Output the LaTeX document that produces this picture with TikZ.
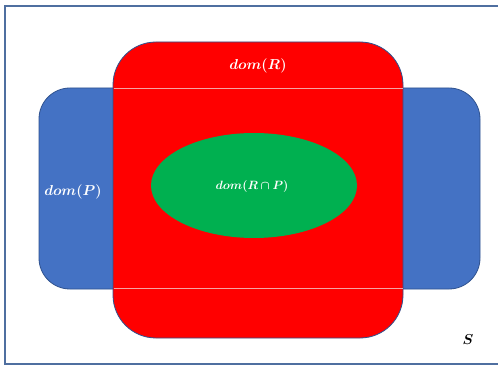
\documentclass[tikz,border=0pt]{standalone}
\usepackage{amsmath,bm}
\usetikzlibrary{shapes.geometric}
\definecolor{pblue}{HTML}{4472C4}
\definecolor{pred}{HTML}{FF0000}
\definecolor{pgreen}{HTML}{00B050}
\definecolor{edge}{HTML}{2F528F}
\definecolor{framec}{HTML}{4F6FA0}
\definecolor{seam}{HTML}{F4A4A4}
\tikzset{
  region/.style={draw=edge, line width=0.8pt},
  lbl/.style={text=white, inner sep=0pt},
}
\begin{document}
\begin{tikzpicture}[x=1pt,y=-1pt]
\useasboundingbox (0,0) rectangle (498,366);
\fill[white] (0,0) rectangle (498,366);
% frame S
\draw[framec, line width=1.5pt] (498,6) -- (5,6) -- (5,364) -- (498,364);
% dom(P)
\path[region, fill=pblue, rounded corners=31pt] (39,88) rectangle (480,289);
% dom(R)
\path[region, fill=pred, rounded corners=43pt] (113,42) rectangle (403,338);
\draw[seam, line width=0.6pt] (113.5,88) -- (402.5,88);
\draw[seam, line width=0.6pt] (113.5,288) -- (402.5,288);
% dom(R cap P)
\node[ellipse, fill=pgreen, minimum width=206pt, minimum height=105pt, inner sep=0pt] (inter) at (254,185.5) {};
\node[lbl, font=\fontsize{12.5}{14}\selectfont] (tinter) at (252,187) {$\bm{dom(R\cap P)}$};
\node[lbl, font=\fontsize{14.5}{16}\selectfont] (tR) at (258,66) {$\bm{dom(R)}$};
\node[lbl, font=\fontsize{14.5}{16}\selectfont] (tP) at (73,192) {$\bm{dom(P)}$};
\node[inner sep=0pt, font=\fontsize{14}{16}\selectfont] (tS) at (468,340) {$\bm{S}$};
\end{tikzpicture}
\end{document}
